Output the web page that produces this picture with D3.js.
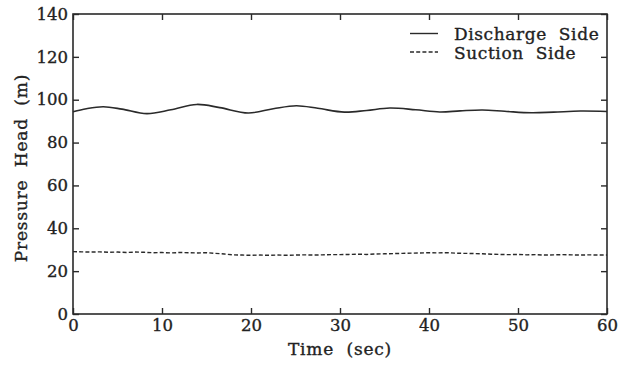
<!DOCTYPE html>
<html>
<head>
<meta charset="utf-8">
<script src="https://cdn.jsdelivr.net/npm/d3@7"></script>
<style>
  html, body { margin: 0; padding: 0; background: #fff; }
  svg { display: block; }
  text { font-family: "DejaVu Serif", "Liberation Serif", serif; fill: #222; stroke: #222; stroke-width: 0.35px; }
</style>
</head>
<body>
<svg id="chart" width="630" height="365"></svg>
<script>
// ---- data ----
const xTicks = [0, 10, 20, 30, 40, 50, 60];
const yTicks = [0, 20, 40, 60, 80, 100, 120, 140];
const seriesNames = ["Discharge Side", "Suction Side"];

const dischargeTime  = [0, 1.5, 3.4, 5.5, 8.3, 11, 13.9, 16.5, 19.7, 22.5, 25.1, 27.5, 30.5, 33, 35.6, 38.5, 41.2, 43.5, 46, 48.5, 51.5, 54, 57, 60];
const dischargeValue = [94.4, 95.8, 96.7, 95.6, 93.5, 95.3, 97.8, 96.3, 93.8, 95.8, 97.2, 96.0, 94.2, 95.0, 96.1, 95.3, 94.3, 94.8, 95.2, 94.6, 93.9, 94.2, 94.7, 94.5];

const suctionTime  = d3.range(0, 61, 1);
const suctionValue = [
  29.1, 29.0, 28.9, 29.0, 28.8, 28.9, 28.7, 28.9, 28.8,
  28.6, 28.7, 28.5, 28.7, 28.6, 28.5, 28.6, 28.3, 28.0,
  27.6, 27.5, 27.4, 27.5, 27.4, 27.5, 27.4, 27.5, 27.6, 27.5, 27.6, 27.7,
  27.7, 27.8, 27.9, 27.8, 28.0, 28.1, 28.2, 28.3, 28.4, 28.5,
  28.6, 28.5, 28.6, 28.4, 28.3, 28.2, 28.1, 27.9, 27.8, 27.7,
  27.8, 27.6, 27.7, 27.5, 27.6, 27.7, 27.6, 27.5, 27.6, 27.5, 27.5
];

// ---- layout ----
const svg = d3.select("#chart");
const L = 73, R = 607, T = 14, B = 314;
const ink = "#2a2a2a";

const x = d3.scaleLinear().domain([0, 60]).range([L, R]);
const y = d3.scaleLinear().domain([0, 140]).range([B, T]);

function styleAxis(g, labels) {
  g.select(".domain").remove();
  g.selectAll(".tick line").attr("stroke", ink).attr("stroke-width", 1.4);
  g.selectAll(".tick text").style("font-size", "16.5px").style("font-family", "DejaVu Serif").attr("fill", ink);
  if (!labels) g.selectAll(".tick text").remove();
}

svg.append("g").attr("transform", `translate(0,${B})`)
  .call(d3.axisBottom(x).tickValues(xTicks).tickSizeInner(-6).tickSizeOuter(0).tickPadding(5))
  .call(g => styleAxis(g, true));
svg.append("g").attr("transform", `translate(0,${T})`)
  .call(d3.axisTop(x).tickValues(xTicks).tickSizeInner(-6).tickSizeOuter(0))
  .call(g => styleAxis(g, false));
svg.append("g").attr("transform", `translate(${L},0)`)
  .call(d3.axisLeft(y).tickValues(yTicks).tickSizeInner(-6).tickSizeOuter(0).tickPadding(5))
  .call(g => styleAxis(g, true));
svg.append("g").attr("transform", `translate(${R},0)`)
  .call(d3.axisRight(y).tickValues(yTicks).tickSizeInner(-6).tickSizeOuter(0))
  .call(g => styleAxis(g, false));

// frame
svg.append("rect")
  .attr("x", L).attr("y", T).attr("width", R - L).attr("height", B - T)
  .attr("fill", "none").attr("stroke", ink).attr("stroke-width", 1.6);

// lines
const dData = dischargeTime.map((t, i) => [t, dischargeValue[i]]);
const sData = suctionTime.map((t, i) => [t, suctionValue[i]]);

svg.append("path").datum(dData)
  .attr("fill", "none").attr("stroke", ink).attr("stroke-width", 1.6)
  .attr("d", d3.line().x(d => x(d[0])).y(d => y(d[1])).curve(d3.curveCatmullRom.alpha(0.5)));

svg.append("path").datum(sData)
  .attr("fill", "none").attr("stroke", ink).attr("stroke-width", 1.4)
  .attr("stroke-dasharray", "4,2.2")
  .attr("d", d3.line().x(d => x(d[0])).y(d => y(d[1])).curve(d3.curveLinear));

// axis titles
svg.append("text")
  .attr("x", (L + R) / 2).attr("y", 355)
  .attr("text-anchor", "middle").style("font-size", "17px")
  .style("letter-spacing", "0.8px").style("white-space", "pre")
  .text("Time  (sec)");

svg.append("text")
  .attr("transform", `translate(27,168) rotate(-90)`)
  .attr("text-anchor", "middle").style("font-size", "17px")
  .style("letter-spacing", "0.8px").style("white-space", "pre")
  .text("Pressure  Head  (m)");

// legend
const leg = svg.append("g");
const legY = [33.5, 52];
const legDash = [null, "4,2.2"];
seriesNames.forEach((name, i) => {
  leg.append("line")
    .attr("x1", 410).attr("x2", 438).attr("y1", legY[i]).attr("y2", legY[i])
    .attr("stroke", ink).attr("stroke-width", 1.4)
    .attr("stroke-dasharray", legDash[i]);
  leg.append("text")
    .attr("x", 454).attr("y", legY[i] + 6.5)
    .style("font-size", "17px").style("letter-spacing", "0.6px").style("white-space", "pre")
    .text(name.replace(" ", "  "));
});
</script>
</body>
</html>
